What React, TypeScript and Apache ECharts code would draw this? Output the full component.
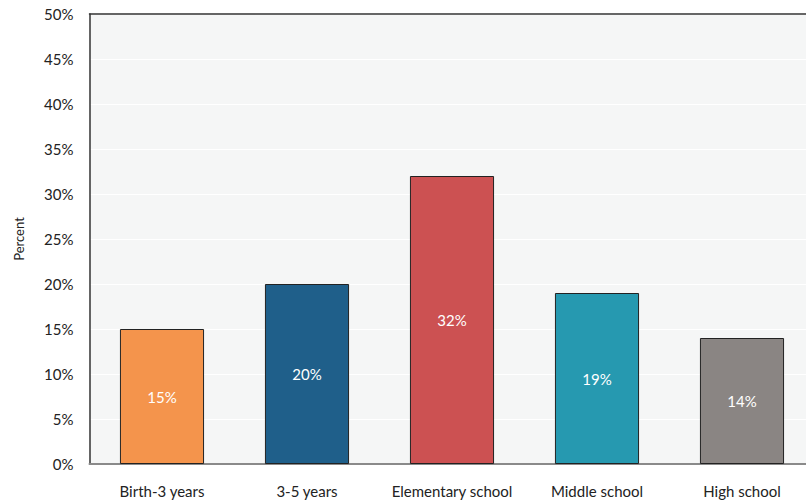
import React, { useEffect, useRef } from "react";
import * as echarts from "echarts";

const categories = ["Birth-3 years", "3-5 years", "Elementary school", "Middle school", "High school"];
const values = [15, 20, 32, 19, 14];
const colors = ["#f4944c", "#1f5f8a", "#cc5152", "#2699b0", "#8a8583"];
const yTicksMax = 50;

export default function App() {
  const ref = useRef<HTMLDivElement>(null);
  useEffect(() => {
    document.body.style.margin = "0";
    const chart = echarts.init(ref.current!, null, { renderer: "svg" });
    const font = "Lato, 'DejaVu Sans', sans-serif";
    chart.setOption({
      animation: false,
      textStyle: { fontFamily: font },
      grid: {
        left: 89.5,
        width: 725,
        top: 14,
        height: 450,
        show: true,
        backgroundColor: "#f5f6f6",
        borderWidth: 0,
        outerBoundsMode: "none",
        containLabel: false,
      },
      xAxis: [
        {
          type: "category",
          data: categories,
          axisLine: { lineStyle: { color: "#8a8a8a", width: 2 } },
          axisTick: { show: false },
          axisLabel: { color: "#222", fontSize: 15, margin: 19, interval: 0, fontFamily: font },
        },
        {
          type: "category",
          position: "top",
          data: categories,
          axisLine: { lineStyle: { color: "#333", width: 1.5 } },
          axisTick: { show: false },
          axisLabel: { show: false },
        },
      ],
      yAxis: {
        type: "value",
        min: 0,
        max: yTicksMax,
        interval: 5,
        name: "Percent",
        nameLocation: "middle",
        nameGap: 64,
        nameRotate: 90,
        nameTextStyle: { color: "#222", fontSize: 13, fontFamily: font },
        axisLine: { show: true, lineStyle: { color: "#333", width: 1.5 } },
        axisTick: { show: false },
        splitLine: { lineStyle: { color: "#ffffff", width: 1 } },
        axisLabel: { formatter: "{value}%", color: "#222", fontSize: 15, margin: 16, fontFamily: font },
      },
      series: [
        {
          type: "bar",
          barWidth: "58%",
          data: values.map((v, i) => ({
            value: v,
            itemStyle: { color: colors[i], borderColor: "#222", borderWidth: 1 },
          })),
          label: {
            show: true,
            position: "inside",
            formatter: "{c}%",
            color: "#ffffff",
            fontSize: 15,
            fontFamily: font,
          },
        },
      ],
    });
    return () => chart.dispose();
  }, []);
  return <div ref={ref} style={{ width: 806, height: 504 }} />;
}
